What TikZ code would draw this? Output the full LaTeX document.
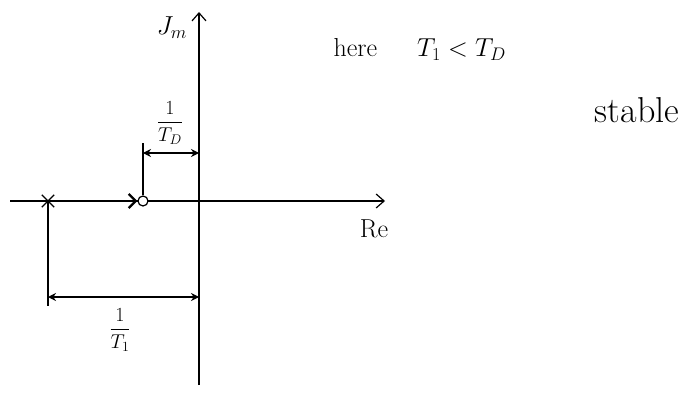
\documentclass[tikz,border=0pt]{standalone}
\usepackage{fix-cm}
\usepackage{amsmath}
\usetikzlibrary{shapes.misc,arrows.meta}
\begin{document}
\begin{tikzpicture}[x=1pt,y=-1pt,line width=1.2pt,
  axis/.style={-{Straight Barb[length=8pt,width=14pt]}},
  dim/.style={{Stealth[length=8pt,width=8pt]}-{Stealth[length=8pt,width=8pt]},line width=1.1pt},
  lbl/.style={font=\fontsize{20}{24}\selectfont},
  axlbl/.style={font=\fontsize{26}{30}\selectfont,inner sep=0pt},
  polemark/.style={cross out,draw,minimum size=11pt,inner sep=0pt,line width=1.3pt},
  zeromark/.style={circle,draw,minimum size=10pt,inner sep=0pt,line width=1.2pt}]
\useasboundingbox (0,0) rectangle (690,393);
% axes
\coordinate (reL) at (10,201);
\coordinate (reR) at (385,201);
\coordinate (imB) at (199,385);
\coordinate (imT) at (199,12);
\draw[axis] (reL) -- (reR);
\draw[axis] (imB) -- (imT);
\node[axlbl] (im) at (172,28) {$J_m$};
\node[axlbl] (re) at (374,229) {Re};
% pole and zero
\node[polemark] (pole) at (48,201) {};
\node[zeromark,fill=white] (zero) at (143,201) {};
\draw[line width=2.4pt,-{Straight Barb[length=7pt,width=14pt]}] (pole.center) -- (zero.west);
% dimension 1/T_D
\coordinate (zt) at (143,143);
\coordinate (dza) at (143,153);
\coordinate (dzb) at (199,153);
\draw (zero.north) -- (zt);
\draw[dim] (dza) -- (dzb);
\node[lbl] (td) at (170,123) {$\dfrac{1}{T_D}$};
% dimension 1/T_1
\coordinate (pb) at (48,306);
\coordinate (dpa) at (48,297);
\coordinate (dpb) at (199,297);
\draw (pole.center) -- (pb);
\draw[dim] (dpa) -- (dpb);
\node[lbl] (t1) at (120,330) {$\dfrac{1}{T_1}$};
% texts
\node[font=\fontsize{26}{30}\selectfont,anchor=base west,inner sep=0pt] (here) at (333,57) {here\hspace{40pt}$T_1 < T_D$};
\node[font=\fontsize{36}{42}\selectfont,anchor=base,inner sep=0pt] (stable) at (637,123) {stable};
\end{tikzpicture}
\end{document}
